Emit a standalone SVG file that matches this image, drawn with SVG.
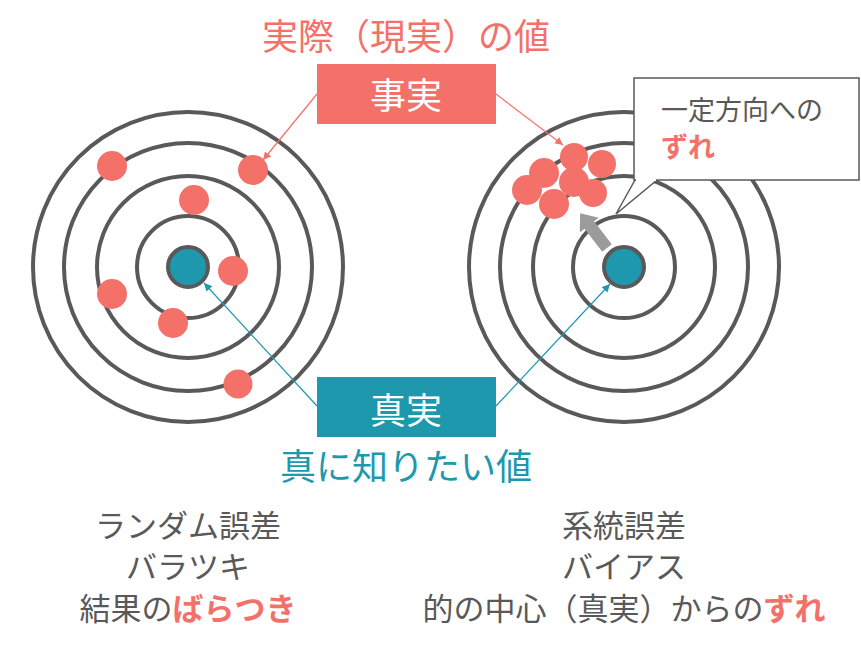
<svg xmlns="http://www.w3.org/2000/svg" width="861" height="645" viewBox="0 0 861 645">
<defs>
<style>
.ring{fill:none;stroke:#595959;stroke-width:4}
.bull{fill:#1d98ad;stroke:#595959;stroke-width:4}
.dot{fill:#f4716a}
.t{font-family:"Noto Sans CJK JP","Noto Sans",sans-serif}
.red{fill:#f4716a}
.teal{fill:#1d98ad}
.gray{fill:#595959}
.white{fill:#ffffff}
.b{font-weight:bold}
.lr{stroke:#f4716a;stroke-width:1.2;fill:none}
.lt{stroke:#1d98ad;stroke-width:1.2;fill:none}
</style>
<marker id="ar" viewBox="0 0 10 10" refX="10" refY="5" markerWidth="8" markerHeight="8" markerUnits="userSpaceOnUse" orient="auto"><path d="M0,0 L10,5 L0,10 z" fill="#f4716a"/></marker>
<marker id="at" viewBox="0 0 10 10" refX="10" refY="5" markerWidth="8" markerHeight="8" markerUnits="userSpaceOnUse" orient="auto"><path d="M0,0 L10,5 L0,10 z" fill="#1d98ad"/></marker>
</defs>
<rect width="861" height="645" fill="#ffffff"/>

<g id="target-left">
<circle class="ring" cx="188" cy="267" r="155"/>
<circle class="ring" cx="188" cy="267" r="124"/>
<circle class="ring" cx="188" cy="267" r="91"/>
<circle class="ring" cx="188" cy="267" r="51"/>
<circle class="bull" cx="188" cy="267" r="20"/>
<circle class="dot" cx="112" cy="166" r="15"/>
<circle class="dot" cx="253" cy="170" r="15"/>
<circle class="dot" cx="194" cy="200" r="15"/>
<circle class="dot" cx="233" cy="271" r="15"/>
<circle class="dot" cx="112" cy="294" r="15"/>
<circle class="dot" cx="173" cy="323" r="15"/>
<circle class="dot" cx="238" cy="384" r="14.5"/>
</g>

<g id="target-right">
<circle class="ring" cx="624" cy="267" r="155"/>
<circle class="ring" cx="624" cy="267" r="124"/>
<circle class="ring" cx="624" cy="267" r="91"/>
<circle class="ring" cx="624" cy="267" r="51"/>
<circle class="bull" cx="624" cy="267" r="20"/>
<circle class="dot" cx="602" cy="164" r="14"/>
<circle class="dot" cx="544" cy="173" r="15"/>
<circle class="dot" cx="527" cy="190" r="15"/>
<circle class="dot" cx="574" cy="157" r="14"/>
<circle class="dot" cx="593" cy="193" r="14"/>
<circle class="dot" cx="574" cy="182" r="15"/>
<circle class="dot" cx="554" cy="204" r="15"/>
<polygon fill="#9b9b9b" points="0,-6 29,-6 29,-12 44,0 29,12 29,6 0,6" transform="translate(607,248) rotate(-127.6)"/>
</g>

<g id="callout">
<polygon points="635,180 616,214 657,180" fill="#ffffff" stroke="#595959" stroke-width="1.5" stroke-linejoin="miter"/>
<rect x="634" y="78" width="225" height="102" fill="#ffffff" stroke="#595959" stroke-width="1.5"/>
<rect x="636" y="178" width="20" height="3" fill="#ffffff"/>
<text class="t gray" x="661" y="120" font-size="27">一定方向への</text>
<text class="t red b" x="661" y="157" font-size="27">ずれ</text>
</g>

<g id="connectors">
<line class="lr" x1="317" y1="94" x2="263" y2="160" marker-end="url(#ar)"/>
<line class="lr" x1="496" y1="94" x2="563" y2="145" marker-end="url(#ar)"/>
<line class="lt" x1="317" y1="406" x2="204" y2="283" marker-end="url(#at)"/>
<line class="lt" x1="496" y1="406" x2="610" y2="284" marker-end="url(#at)"/>
</g>

<g id="fact">
<text class="t red" x="406" y="50" font-size="36" text-anchor="middle">実際（現実）の値</text>
<rect x="317" y="64" width="179" height="60" fill="#f4716a"/>
<text class="t white" x="406" y="109" font-size="36" text-anchor="middle">事実</text>
</g>

<g id="truth">
<rect x="317" y="377" width="179" height="60" fill="#1d98ad"/>
<text class="t white" x="406" y="424" font-size="36" text-anchor="middle">真実</text>
<text class="t teal" x="406" y="480" font-size="36" text-anchor="middle">真に知りたい値</text>
</g>

<g id="label-left">
<text class="t gray" x="188" y="537" font-size="31" text-anchor="middle">ランダム誤差</text>
<text class="t gray" x="188" y="578" font-size="31" text-anchor="middle">バラツキ</text>
<text class="t gray" x="188" y="620" font-size="31" text-anchor="middle">結果の<tspan class="red b">ばらつき</tspan></text>
</g>

<g id="label-right">
<text class="t gray" x="624" y="537" font-size="31" text-anchor="middle">系統誤差</text>
<text class="t gray" x="624" y="578" font-size="31" text-anchor="middle">バイアス</text>
<text class="t gray" x="624" y="620" font-size="31" text-anchor="middle">的の中心（真実）からの<tspan class="red b">ずれ</tspan></text>
</g>
</svg>
